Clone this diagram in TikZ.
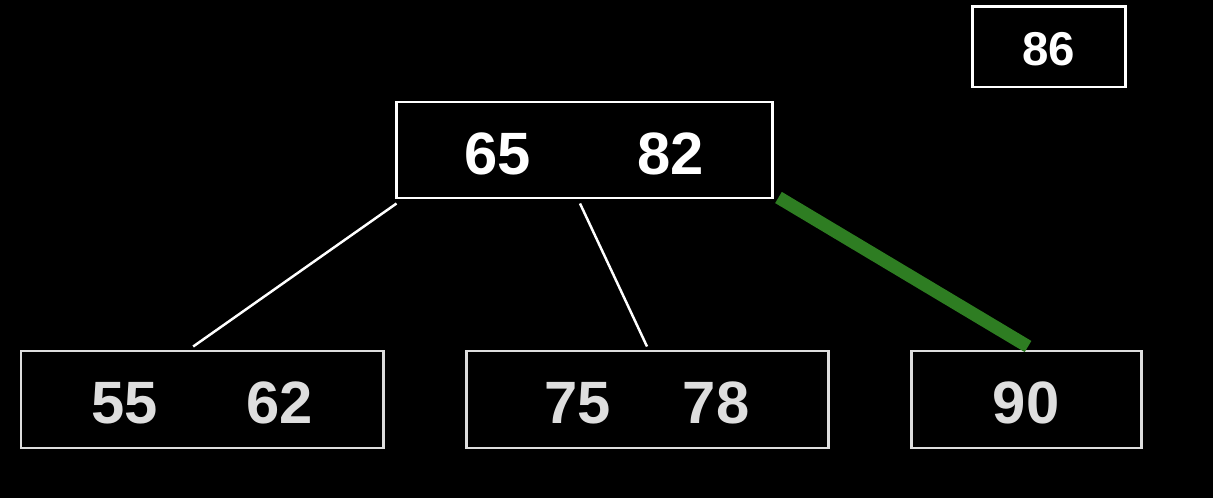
\documentclass[tikz,border=0pt]{standalone}
\usepackage{fontspec}
\setmainfont{Liberation Sans}
\usepackage{xcolor}
\usepackage{tikz}
\usetikzlibrary{
  positioning,
  calc
}
\definecolor{pathgreen}{RGB}{46,125,34}
\definecolor{leafgray}{RGB}{222,222,222}

\begin{document}
\begin{tikzpicture}[
    font=\bfseries\fontsize{34}{40}\selectfont,
    root/.style={
      draw=white,
      text=white,
      line width=1.7pt,
      minimum width=75.2mm,
      minimum height=19.2mm,
      inner sep=0pt,
      text height=9.8mm,
      text depth=0pt,
      align=center
    },
    leaf/.style={
      draw=leafgray,
      text=leafgray,
      line width=1.7pt,
      minimum width=72.4mm,
      minimum height=19.4mm,
      inner sep=0pt,
      text height=9.4mm,
      text depth=0pt,
      align=center
    },
    newkey/.style={
      draw=white,
      text=white,
      line width=1.7pt,
      minimum width=30.6mm,
      minimum height=16mm,
      inner sep=0pt,
      text height=7.4mm,
      text depth=0pt,
      font=\bfseries\fontsize{27}{30}\selectfont
    },
    edge/.style={white,line width=1.4pt},
    path/.style={pathgreen,line width=7.4pt}
  ]

  % background
  \fill[black] (0,0) rectangle (24.26,9.96);
  \useasboundingbox (0,0) rectangle (24.26,9.96);

  % ========== Nodes ==========
  \node[newkey] (new) at (20.97,9.02) {86};

  \node[root] (r) at (11.68,6.96)
    {65\hspace{21.4mm}82};

  \node[leaf] (la) at (4.04,1.97)
    {55\hspace{17.8mm}62};
  \node[leaf] (lb) at (12.94,1.97)
    {75\hspace{14.4mm}78};
  \node[leaf,minimum width=46mm] (lc) at (20.52,1.97)
    {90};

  % ========== Edges ==========
  \draw[edge] ($(r.south west)+(0.04,-0.08)$) -- ($(la.100)+(0,0.06)$);
  \draw[edge] ($(r.south)+(-0.08,-0.08)$) -- ($(lb.north)+(0,0.06)$);
  \draw[path] ($(r.south east)+(0.1,0.04)$) -- ($(lc.north)+(0.04,0.06)$);
\end{tikzpicture}
\end{document}
